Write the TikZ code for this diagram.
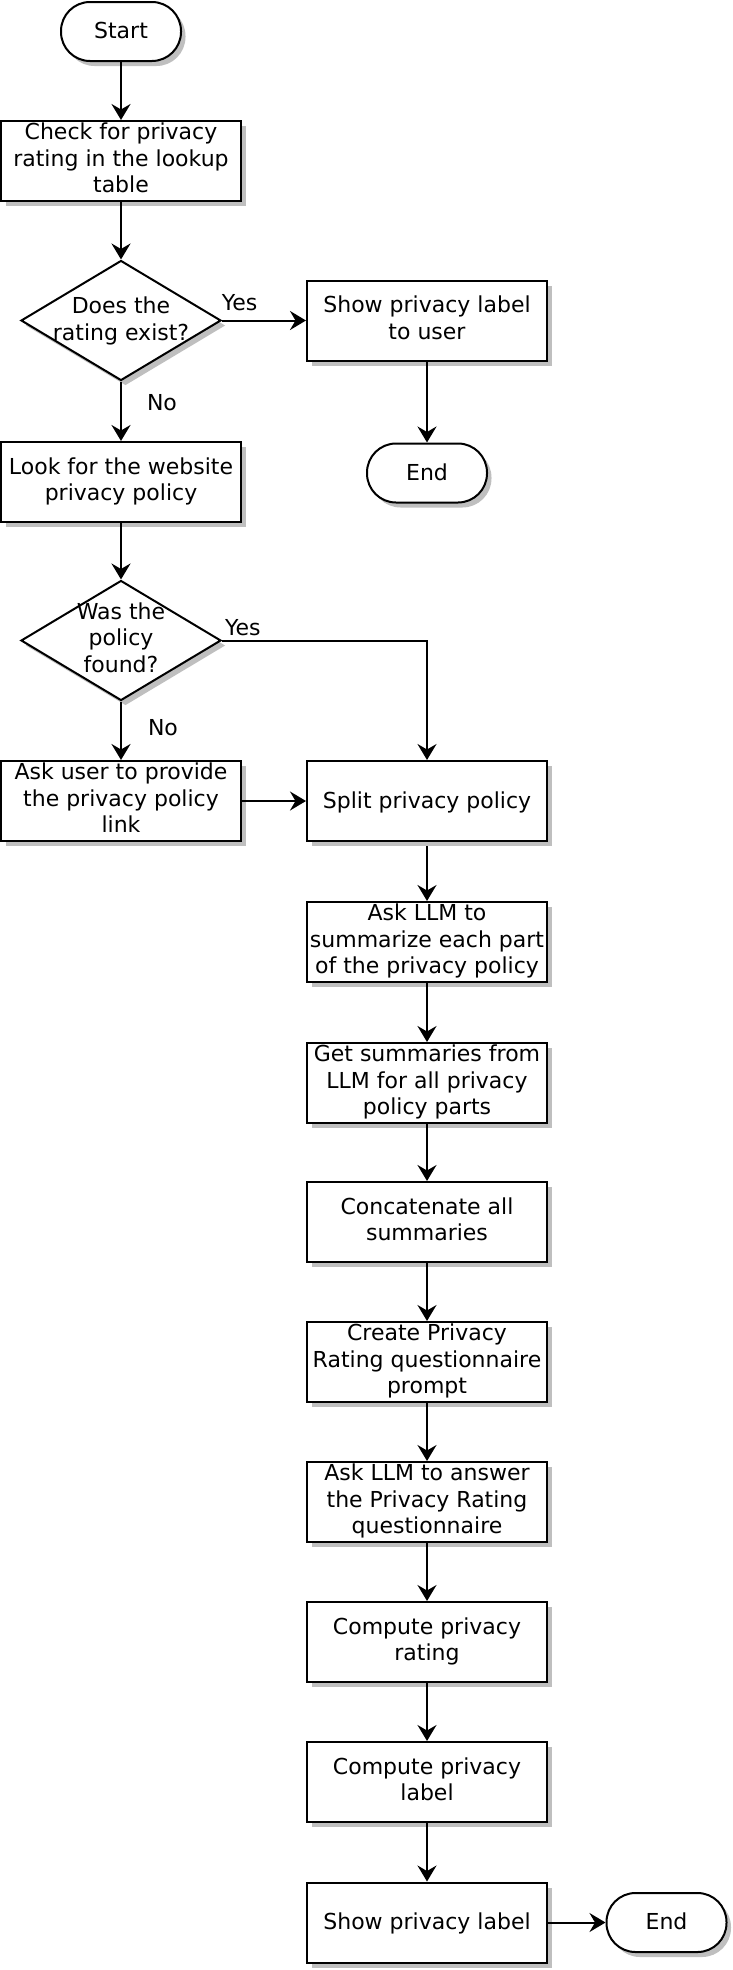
\documentclass[tikz,border=0pt]{standalone}
\usepackage{fontspec}
\setmainfont{DejaVu Sans}
\usetikzlibrary{shapes.geometric, arrows.meta, shadows}
\newcommand{\lnstrut}{\rule[-6.1pt]{0pt}{26.5pt}}
\begin{document}
\begin{tikzpicture}[x=1pt, y=-1pt,
  txt/.style={font=\fontsize{22pt}{26.5pt}\selectfont, execute at begin node=\lnstrut, execute at end node=\lnstrut},
  shad/.style={drop shadow={shadow xshift=4.5pt, shadow yshift=-5pt, fill=black!25, opacity=1}},
  proc/.style={txt, draw, line width=2pt, fill=white, shad, rectangle, minimum width=240pt, minimum height=80pt, inner sep=0pt, align=center},
  term/.style={txt, draw, line width=2pt, fill=white, shad, rectangle, rounded corners=29pt, minimum width=120pt, minimum height=59pt, inner sep=0pt},
  dec/.style={draw, line width=2pt, fill=white, shad, diamond, minimum width=200pt, minimum height=120pt, inner sep=0pt},
  dectext/.style={txt, inner sep=0pt, align=center},
  conn/.style={line width=2pt, -{Stealth[length=16pt,width=19pt,inset=5.5pt]}},
  lbl/.style={txt, inner sep=0pt}
]
\useasboundingbox (0,0) rectangle (732,1970);

% left column / top
\node[term] (start) at (121,31.5) {Start};
\node[proc] (check) at (121,161) {Check for privacy\\rating in the lookup\\table};
\node[dec] (d1) at (121,320.5) {};
\node[dectext] (d1t) at (121,321.5) {Does the\\rating exist?};
\node[proc] (show1) at (427,320.5) {Show privacy label\\to user};
\node[term] (end1) at (427,473) {End};
\node[proc] (look) at (121,482) {Look for the website\\privacy policy};
\node[dec] (d2) at (121,640.5) {};
\node[dectext] (d2t) at (121,640.5) {Was the\\policy\\found?};
\node[proc] (askuser) at (121,801) {Ask user to provide\\the privacy policy\\link};

% right column
\node[proc] (split) at (427,801) {Split privacy policy};
\node[proc] (askllm) at (427,942) {Ask LLM to\\summarize each part\\of the privacy policy};
\node[proc] (getsum) at (427,1083) {Get summaries from\\LLM for all privacy\\policy parts};
\node[proc] (concat) at (427,1222) {Concatenate all\\summaries};
\node[proc] (create) at (427,1362) {Create Privacy\\Rating questionnaire\\prompt};
\node[proc] (askans) at (427,1502) {Ask LLM to answer\\the Privacy Rating\\questionnaire};
\node[proc] (rating) at (427,1642) {Compute privacy\\rating};
\node[proc] (label) at (427,1782) {Compute privacy\\label};
\node[proc] (show2) at (427,1922.5) {Show privacy label};
\node[term] (end2) at (666.5,1922.5) {End};

% connectors
\draw[conn] (start) -- (check);
\draw[conn] (check) -- (d1);
\draw[conn] (d1.east) -- node[lbl, pos=0.21, yshift=17pt] {Yes} (show1.west);
\draw[conn] (show1) -- (end1);
\draw[conn] (d1.south) -- node[lbl, pos=0.37, xshift=41pt] {No} (look.north);
\draw[conn] (look) -- (d2);
\draw[conn] (d2.east) -| node[lbl, pos=0.051, yshift=12pt] {Yes} (split.north);
\draw[conn] (d2.south) -- node[lbl, pos=0.46, xshift=42pt] {No} (askuser.north);
\draw[conn] (askuser.east) -- (askuser.east -| split.west);
\draw[conn, shorten <=4pt] (split) -- (askllm);
\draw[conn] (askllm) -- (getsum);
\draw[conn] (getsum) -- (concat);
\draw[conn] (concat) -- (create);
\draw[conn] (create) -- (askans);
\draw[conn] (askans) -- (rating);
\draw[conn] (rating) -- (label);
\draw[conn] (label) -- (show2);
\draw[conn] (show2.east) -- (show2.east -| end2.west);
\end{tikzpicture}
\end{document}
